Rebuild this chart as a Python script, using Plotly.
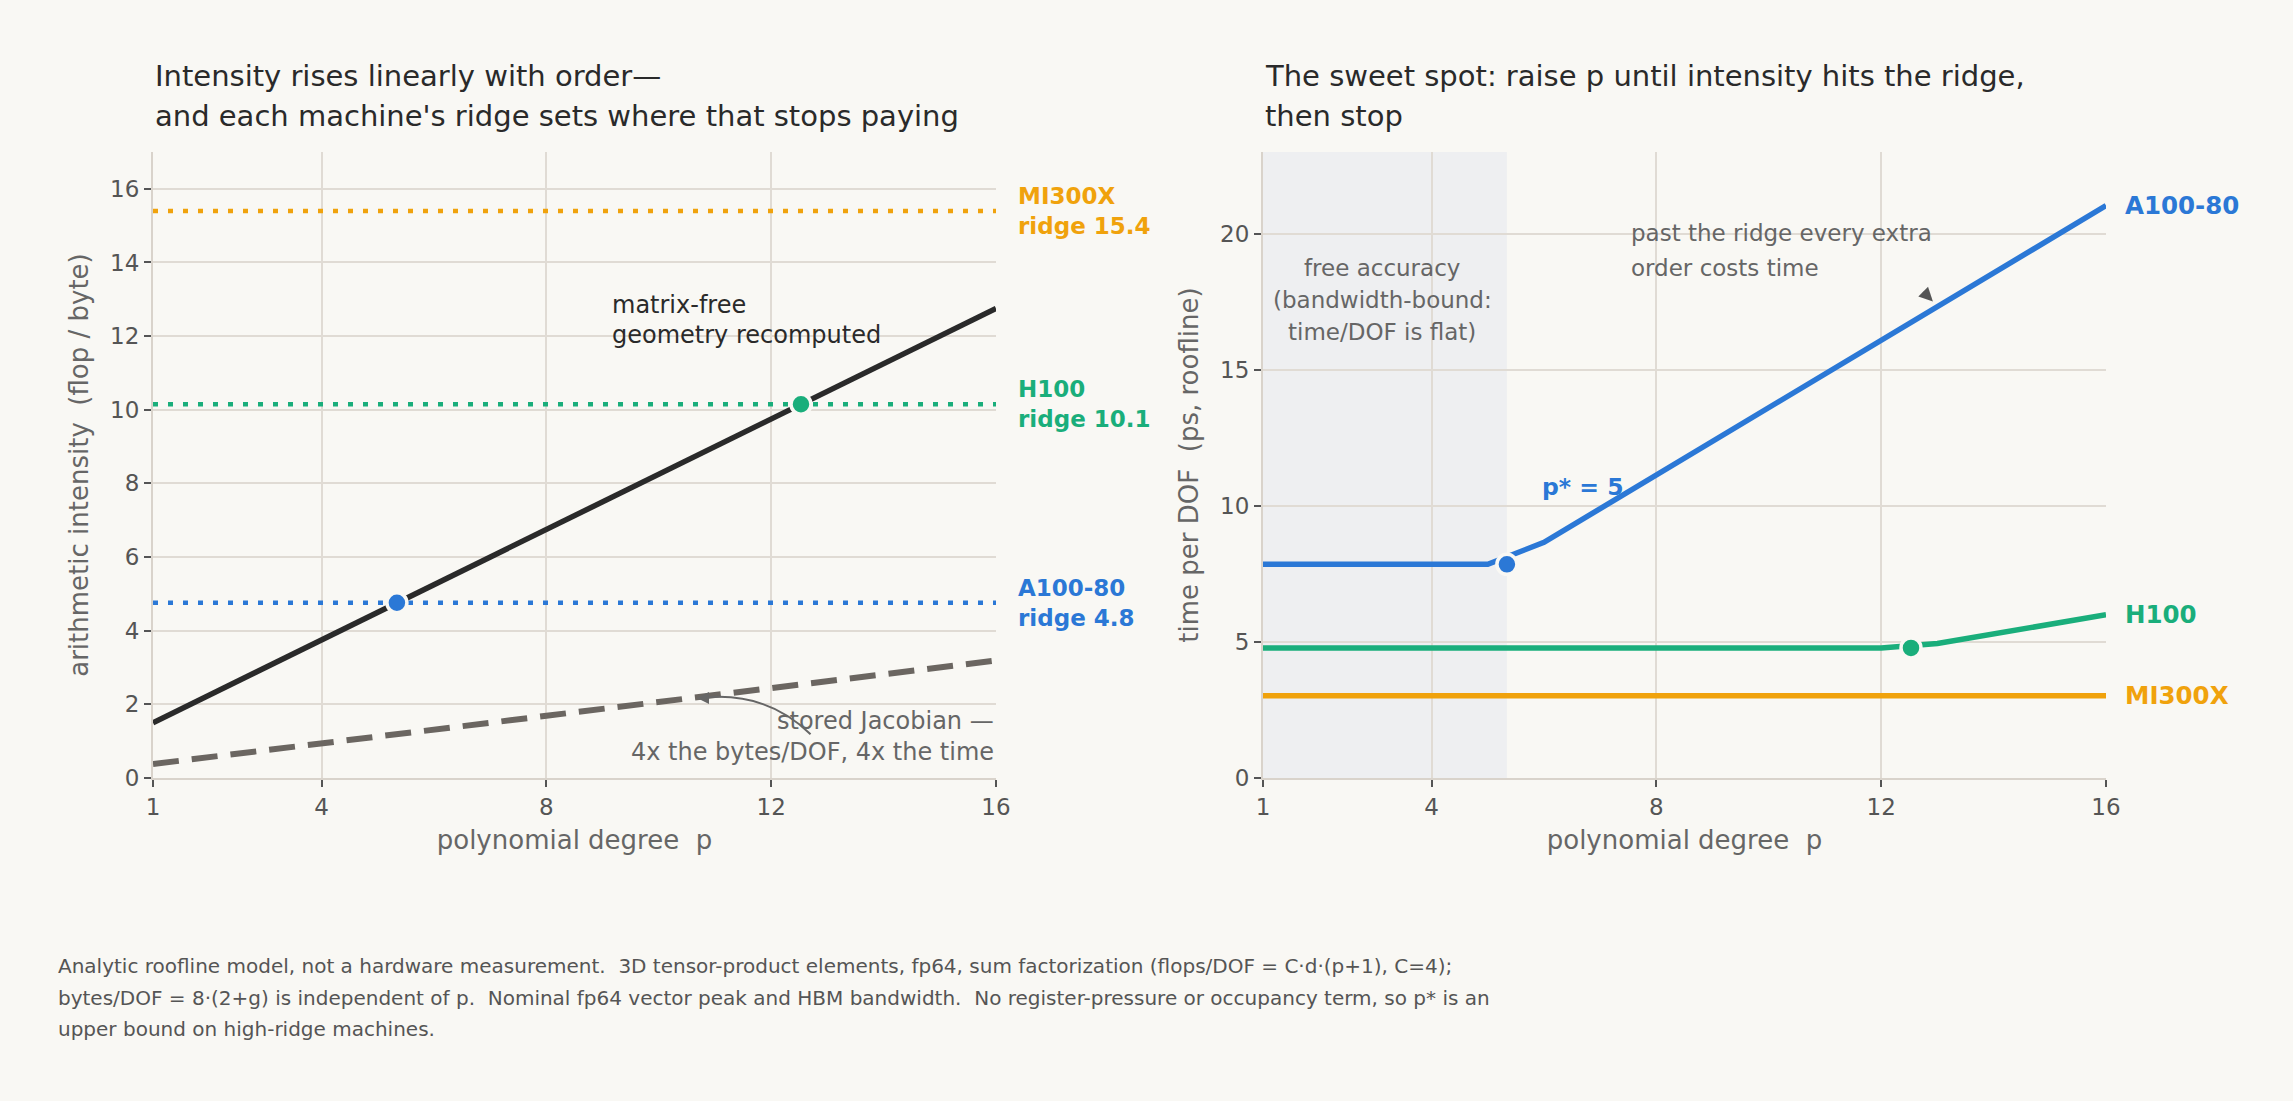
import plotly.graph_objects as go

# ---------------- data ----------------
p = [1, 2, 3, 4, 5, 6, 7, 8, 9, 10, 11, 12, 13, 14, 15, 16]
intensity_matrix_free = [1.50, 2.25, 3.00, 3.75, 4.50, 5.25, 6.00, 6.75,
                         7.50, 8.25, 9.00, 9.75, 10.50, 11.25, 12.00, 12.75]
intensity_stored_jac = [0.38, 0.56, 0.75, 0.94, 1.13, 1.31, 1.50, 1.69,
                        1.88, 2.06, 2.25, 2.44, 2.63, 2.81, 3.00, 3.19]

machines = ["A100-80", "H100", "MI300X"]
ridge = [4.76, 10.15, 15.40]
ridge_labels = ["ridge 4.8", "ridge 10.1", "ridge 15.4"]
p_star = [5.34, 12.53, None]          # where intensity meets the ridge

time_a100 = [7.85, 7.85, 7.85, 7.85, 7.85, 8.66, 9.90, 11.13,
             12.37, 13.61, 14.85, 16.08, 17.32, 18.56, 19.79, 21.03]
time_h100 = [4.78, 4.78, 4.78, 4.78, 4.78, 4.78, 4.78, 4.78,
             4.78, 4.78, 4.78, 4.78, 4.94, 5.29, 5.65, 6.00]
time_mi300x = [3.02, 3.02, 3.02, 3.02, 3.02, 3.02, 3.02, 3.02,
               3.02, 3.02, 3.02, 3.02, 3.02, 3.02, 3.02, 3.02]
flat_time = [7.85, 4.78, 3.02]

x_ticks = [1, 4, 8, 12, 16]
y1_ticks = [0, 2, 4, 6, 8, 10, 12, 14, 16]
y2_ticks = [0, 5, 10, 15, 20]

# ---------------- style ----------------
BG = "#f9f8f4"
GRID = "#e0dbd4"
AXLINE = "#d9d3cb"
BLUE = "#2b78d6"
GREEN = "#1aae7b"
ORANGE = "#f0a20c"
DARK = "#2a2a2a"
DASHGRAY = "#6b6661"
TXT = "#555555"
TXT2 = "#666666"
FONT = "DejaVu Sans"
colors = [BLUE, GREEN, ORANGE]
times = [time_a100, time_h100, time_mi300x]

fig = go.Figure()

# left panel: ridges
for m, r, c in zip(machines, ridge, colors):
    fig.add_trace(go.Scatter(x=[p[0], p[-1]], y=[r, r], mode="lines",
                             line=dict(color=c, width=4.5, dash="5px,10px"),
                             xaxis="x", yaxis="y", showlegend=False, hoverinfo="skip"))
fig.add_trace(go.Scatter(x=p, y=intensity_stored_jac, mode="lines",
                         line=dict(color=DASHGRAY, width=6, dash="26px,13px"),
                         xaxis="x", yaxis="y", showlegend=False))
fig.add_trace(go.Scatter(x=p, y=intensity_matrix_free, mode="lines",
                         line=dict(color=DARK, width=5.5),
                         xaxis="x", yaxis="y", showlegend=False))
for ps, r, c in zip(p_star, ridge, colors):
    if ps is None:
        continue
    fig.add_trace(go.Scatter(x=[ps], y=[r], mode="markers",
                             marker=dict(color=c, size=20, line=dict(color=BG, width=3.5)),
                             xaxis="x", yaxis="y", showlegend=False))

# right panel: time per DOF
for m, t, c in zip(machines, times, colors):
    fig.add_trace(go.Scatter(x=p, y=t, mode="lines", line=dict(color=c, width=5.5),
                             xaxis="x2", yaxis="y2", showlegend=False))
for ps, ft, c in zip(p_star, flat_time, colors):
    if ps is None:
        continue
    fig.add_trace(go.Scatter(x=[ps], y=[ft], mode="markers",
                             marker=dict(color=c, size=20, line=dict(color=BG, width=3.5)),
                             xaxis="x2", yaxis="y2", showlegend=False))

# ---------------- layout ----------------
W, H = 2293, 1101
def px_x(v):
    return v / W
def px_y(v):
    return 1 - v / H

axis_common = dict(showgrid=True, gridcolor=GRID, gridwidth=1.5, zeroline=False,
                   showline=True, linecolor=AXLINE, linewidth=2, automargin=False,
                   ticks="outside", ticklen=7, tickwidth=1.5, tickcolor=TXT,
                   tickfont=dict(family=FONT, size=23, color=TXT))
title_font = dict(family=FONT, size=26, color=TXT2)

fig.update_layout(
    width=W, height=H,
    paper_bgcolor=BG, plot_bgcolor=BG,
    margin=dict(l=0, r=0, t=0, b=0),
    showlegend=False,
    font=dict(family=FONT),
    xaxis=dict(domain=[px_x(153), px_x(996)], range=[1, 16], tickvals=x_ticks,
               anchor="y",
               title=dict(text="polynomial degree  p", standoff=12, font=title_font),
               **axis_common),
    yaxis=dict(domain=[px_y(778), px_y(152)], range=[0, 17], tickvals=y1_ticks,
               anchor="x",
               title=dict(text="arithmetic intensity  (flop / byte)", standoff=14, font=title_font),
               **axis_common),
    xaxis2=dict(domain=[px_x(1263), px_x(2106)], range=[1, 16], tickvals=x_ticks,
                anchor="y2",
                title=dict(text="polynomial degree  p", standoff=12, font=title_font),
                **axis_common),
    yaxis2=dict(domain=[px_y(778), px_y(152)], range=[0, 23], tickvals=y2_ticks,
                anchor="x2",
                title=dict(text="time per DOF  (ps, roofline)", standoff=14, font=title_font),
                **axis_common),
)

shapes = [
    dict(type="rect", xref="x2", yref="y2 domain", x0=p[0], x1=p_star[0], y0=0, y1=1,
         fillcolor="#eeeff1", line=dict(width=0), layer="below"),
    dict(type="path", xref="x", yref="y",
         path="M 12.70 1.19 Q 11.89 2.39 10.72 2.17",
         line=dict(color=TXT2, width=2)),
]
fig.update_layout(shapes=shapes)

ann = []
# titles
ann.append(dict(text="Intensity rises linearly with order—", x=px_x(153), y=px_y(76)))
ann.append(dict(text="and each machine's ridge sets where that stops paying", x=px_x(153), y=px_y(116)))
ann.append(dict(text="The sweet spot: raise p until intensity hits the ridge,", x=px_x(1263), y=px_y(76)))
ann.append(dict(text="then stop", x=px_x(1263), y=px_y(116)))
for a in ann:
    a.update(xref="paper", yref="paper", xanchor="left", yanchor="middle", showarrow=False,
             font=dict(family=FONT, size=29, color=DARK))

foot = ["Analytic roofline model, not a hardware measurement.  3D tensor-product elements, fp64, sum factorization (flops/DOF = C·d·(p+1), C=4);",
        "bytes/DOF = 8·(2+g) is independent of p.  Nominal fp64 vector peak and HBM bandwidth.  No register-pressure or occupancy term, so p* is an",
        "upper bound on high-ridge machines."]
for txt, yy in zip(foot, [966, 998, 1029]):
    ann.append(dict(text=txt, x=px_x(56), y=px_y(yy), xref="paper", yref="paper",
                    xanchor="left", yanchor="middle", showarrow=False,
                    font=dict(family=FONT, size=20, color=TXT)))

# ridge labels (left)
for m, r, lab, c in zip(machines, ridge, ridge_labels, colors):
    ann.append(dict(text=f"<b>{m}<br>{lab}</b>", x=16, y=r, xref="x", yref="y",
                    xshift=20, xanchor="left", yanchor="middle", align="left",
                    showarrow=False, font=dict(family=FONT, size=23, color=c)))
# end labels (right)
for m, t, c in zip(machines, times, colors):
    ann.append(dict(text=f"<b>{m}</b>", x=16, y=t[-1], xref="x2", yref="y2",
                    xshift=17, xanchor="left", yanchor="middle",
                    showarrow=False, font=dict(family=FONT, size=24.5, color=c)))

def lines(texts, x, y, xref, yref, spacing, xanchor, color, size=22):
    n = len(texts)
    for i, t in enumerate(texts):
        shift = ((n - 1) / 2 - i) * spacing
        ann.append(dict(text=t, x=x, y=y, xref=xref, yref=yref, yshift=shift,
                        xanchor=xanchor, yanchor="middle", showarrow=False,
                        font=dict(family=FONT, size=size, color=color)))

lines(["matrix-free", "geometry recomputed"], 9.13, 12.45, "x", "y", 30, "left", DARK, 24)
lines(["stored Jacobian —", "4x the bytes/DOF, 4x the time"], 16, 1.14, "x", "y", 31, "right", TXT2, 24)
lines(["free accuracy", "(bandwidth-bound:", "time/DOF is flat)"], 3.12, 17.57, "x2", "y2", 32, "center", TXT2, 23)
lines(["past the ridge every extra", "order costs time"], 7.51, 19.39, "x2", "y2", 35, "left", TXT2, 23)

ann.append(dict(text="<b>p* = 5</b>", x=5.93, y=10.7, xref="x2", yref="y2",
                xanchor="left", yanchor="middle", showarrow=False,
                font=dict(family=FONT, size=23.5, color=BLUE)))

# arrowheads
ann.append(dict(text="", x=10.68, y=2.17, xref="x", yref="y", showarrow=True,
                ax=12, ay=0, arrowhead=2, arrowsize=1.2, arrowwidth=2, arrowcolor=TXT2))
ann.append(dict(text="", x=12.92, y=17.51, xref="x2", yref="y2", showarrow=True,
                ax=-11, ay=-11, arrowhead=2, arrowsize=1.1, arrowwidth=2.5, arrowcolor=TXT))

fig.update_layout(annotations=ann)

fig.write_html("out.html")
